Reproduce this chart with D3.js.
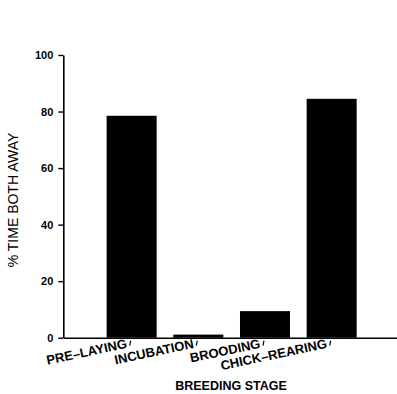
<!DOCTYPE html>
<html>
<head>
<meta charset="utf-8">
<script src="https://cdn.jsdelivr.net/npm/d3@7"></script>
<style>
  html, body { margin: 0; padding: 0; background: #fff; }
  svg { display: block; }
</style>
</head>
<body>
<script>
// data
const stages = ["PRE\u2013LAYING", "INCUBATION", "BROODING", "CHICK\u2013REARING"];
const pctBothAway = [78.5, 1.1, 9.4, 84.5];
const yTicks = [0, 20, 40, 60, 80, 100];

const width = 397, height = 394;
const margin = { top: 55, left: 63.3, bottom: 56.3 };
const plotBottom = height - margin.bottom;

const svg = d3.select("body")
  .append("svg")
  .attr("width", width)
  .attr("height", height);

svg.append("rect").attr("width", width).attr("height", height).attr("fill", "#fff");

// scales
const x = d3.scaleBand()
  .domain(stages)
  .range([margin.left, 400])
  .paddingInner(0.25)
  .paddingOuter(0.65);

const y = d3.scaleLinear()
  .domain([0, 100])
  .range([plotBottom, margin.top]);

// bars
svg.append("g")
  .selectAll("rect")
  .data(stages)
  .enter()
  .append("rect")
  .attr("x", (d) => x(d))
  .attr("y", (d, i) => y(pctBothAway[i]))
  .attr("width", x.bandwidth())
  .attr("height", (d, i) => y(0) - y(pctBothAway[i]))
  .attr("fill", "#000");

// y axis
const yAxis = svg.append("g")
  .attr("transform", `translate(${margin.left},0)`)
  .call(d3.axisLeft(y).tickValues(yTicks).tickSize(5).tickSizeOuter(0).tickPadding(5));

yAxis.select(".domain").attr("stroke-width", 1.6);
yAxis.selectAll(".tick line").attr("stroke-width", 1.4);
yAxis.selectAll(".tick text")
  .attr("font-family", "Liberation Sans, Arial, sans-serif")
  .attr("font-weight", "bold")
  .attr("font-size", 11)
  .attr("fill", "#000");

// x axis
const xAxis = svg.append("g")
  .attr("transform", `translate(0,${plotBottom})`)
  .call(d3.axisBottom(x).tickSize(0).tickSizeOuter(0).tickFormat(""));

xAxis.select(".domain").attr("stroke-width", 1.6);

// small slanted tick marks after each label
xAxis.selectAll(".tick line")
  .attr("x1", -2).attr("y1", 8)
  .attr("x2", -1).attr("y2", 3)
  .attr("stroke", "#000")
  .attr("stroke-width", 1.2);

// rotated category labels ending at each tick
xAxis.selectAll(".tick")
  .append("text")
  .attr("transform", "translate(-4,10) rotate(-12)")
  .attr("text-anchor", "end")
  .attr("font-family", "Liberation Sans, Arial, sans-serif")
  .attr("font-weight", "bold")
  .attr("font-size", 13)
  .attr("fill", "#000")
  .text((d) => d);

// axis titles
svg.append("text")
  .attr("transform", "translate(18,200) rotate(-90)")
  .attr("text-anchor", "middle")
  .attr("font-family", "Liberation Sans, Arial, sans-serif")
  .attr("font-size", 14)
  .attr("fill", "#000")
  .text("% TIME BOTH AWAY");

svg.append("text")
  .attr("x", 231)
  .attr("y", 390)
  .attr("text-anchor", "middle")
  .attr("font-family", "Liberation Sans, Arial, sans-serif")
  .attr("font-weight", "bold")
  .attr("font-size", 12.5)
  .attr("fill", "#000")
  .text("BREEDING STAGE");
</script>
</body>
</html>
